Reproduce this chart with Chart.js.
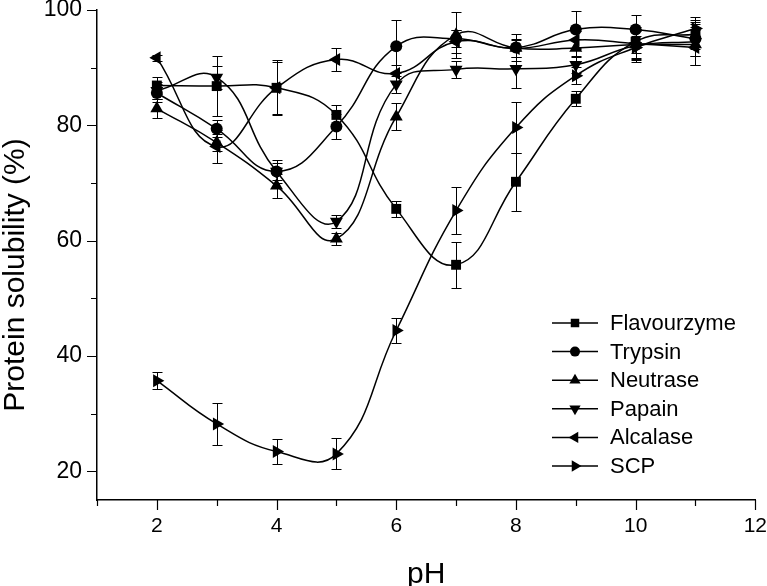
<!DOCTYPE html>
<html>
<head>
<meta charset="utf-8">
<script src="https://cdn.jsdelivr.net/npm/chart.js@4.4.1/dist/chart.umd.min.js"></script>
<style>
  html, body { margin: 0; padding: 0; background: #fff; }
  canvas { display: block; }
</style>
</head>
<body>
<canvas id="grafico" width="767" height="586"></canvas>
<script>
// ========== DATA ==========
const valoresPH = [2, 3, 4, 5, 6, 7, 8, 9, 10, 11];

const flavourzyme = [86.9, 86.8, 86.5, 81.8, 65.5, 55.8, 70.2, 84.6, 94.5, 95.8];
const trypsin     = [85.6, 79.4, 72.0, 79.8, 93.7, 95.0, 93.5, 96.6, 96.6, 95.0];
const neutrase    = [82.9, 77.0, 69.5, 60.3, 81.5, 95.7, 93.4, 93.4, 94.0, 94.0];
const papain      = [86.0, 88.3, 72.0, 63.3, 87.1, 89.7, 89.8, 90.5, 93.8, 94.5];
const alcalase    = [91.7, 76.3, 86.5, 91.4, 89.0, 94.5, 93.3, 94.8, 94.2, 93.5];
const scp         = [35.7, 28.2, 23.4, 23.0, 44.4, 65.2, 79.6, 88.6, 93.5, 96.8];

// standard deviations (error bars)
const flavourzymeErr = [1.5, 5.2, 4.8, 1.7, 1.4, 4.0, 5.0, 1.3, 2.0, 2.5];
const trypsinErr     = [1.5, 1.5, 1.5, 2.2, 4.6, 1.5, 2.3, 3.2, 2.6, 3.0];
const neutraseErr    = [1.7, 1.5, 2.1, 1.0, 2.4, 4.0, 1.5, 1.5, 3.0, 3.5];
const papainErr      = [1.5, 2.0, 2.0, 1.1, 1.5, 1.5, 3.3, 1.5, 2.5, 2.5];
const alcalaseErr    = [0.5, 2.9, 4.5, 2.0, 1.5, 2.0, 1.5, 1.5, 2.5, 3.0];
const scpErr         = [1.5, 3.7, 2.1, 2.7, 2.2, 4.1, 4.4, 1.5, 2.0, 2.0];

const nomesSeries = ['Flavourzyme', 'Trypsin', 'Neutrase', 'Papain', 'Alcalase', 'SCP'];
const ticksX = [2, 4, 6, 8, 10, 12];
const ticksY = [20, 40, 60, 80, 100];
const tituloY = 'Protein solubility (%)';

const FONTE = '"Liberation Sans", Arial, Helvetica, sans-serif';

// marker look for each series
const marcadores = [
    { estilo: 'rect', rotacao: 0, raio: 7 },
    { estilo: 'circle', rotacao: 0, raio: 6 },
    { estilo: 'triangle', rotacao: 0, raio: 7.5 },
    { estilo: 'triangle', rotacao: 180, raio: 7.5 },
    { estilo: 'triangle', rotacao: 270, raio: 7.5 },
    { estilo: 'triangle', rotacao: 90, raio: 7.5 }
];

const todosValores = [flavourzyme, trypsin, neutrase, papain, alcalase, scp];
const todosErros = [flavourzymeErr, trypsinErr, neutraseErr, papainErr, alcalaseErr, scpErr];

// ========== HELPERS ==========
function desenharMarcador(ctx, estilo, rotacao, x, y, r) {
    ctx.beginPath();
    if (estilo === 'rect') {
        const s = r * Math.SQRT1_2;
        ctx.rect(x - s, y - s, 2 * s, 2 * s);
    } else if (estilo === 'circle') {
        ctx.arc(x, y, r, 0, Math.PI * 2);
    } else {
        let a = rotacao * Math.PI / 180;
        for (let i = 0; i < 3; i++) {
            const px = x + Math.sin(a) * r;
            const py = y - Math.cos(a) * r;
            if (i === 0) ctx.moveTo(px, py); else ctx.lineTo(px, py);
            a += Math.PI * 2 / 3;
        }
    }
    ctx.closePath();
    ctx.fill();
}

// error bars, drawn under the curves
const pluginErros = {
    id: 'barrasErro',
    beforeDatasetsDraw(chart) {
        const ctx = chart.ctx;
        const sx = chart.scales.x, sy = chart.scales.y;
        ctx.save();
        ctx.strokeStyle = '#000';
        ctx.lineWidth = 1;
        todosValores.forEach((serie, i) => {
            serie.forEach((v, j) => {
                const e = todosErros[i][j];
                const x = Math.round(sx.getPixelForValue(valoresPH[j])) + 0.5;
                const yt = Math.round(sy.getPixelForValue(v + e)) + 0.5;
                const yb = Math.round(sy.getPixelForValue(v - e)) + 0.5;
                ctx.beginPath();
                ctx.moveTo(x, yt); ctx.lineTo(x, yb);
                ctx.moveTo(x - 5, yt); ctx.lineTo(x + 5, yt);
                ctx.moveTo(x - 5, yb); ctx.lineTo(x + 5, yb);
                ctx.stroke();
            });
        });
        ctx.restore();
    }
};

// major + minor tick marks (outward) and the y axis title
const pluginTicks = {
    id: 'marcasEixos',
    afterDraw(chart) {
        const ctx = chart.ctx;
        const sx = chart.scales.x, sy = chart.scales.y;
        const area = chart.chartArea;
        ctx.save();
        ctx.strokeStyle = '#000';
        ctx.lineWidth = 1.2;
        ctx.beginPath();
        for (let v = sx.min; v <= sx.max; v++) {
            const x = Math.round(sx.getPixelForValue(v)) + 0.5;
            const len = ticksX.includes(v) ? 10 : 6;
            ctx.moveTo(x, area.bottom); ctx.lineTo(x, area.bottom + len);
        }
        for (let v = 20; v <= sy.max; v += 10) {
            const y = Math.round(sy.getPixelForValue(v)) + 0.5;
            const len = ticksY.includes(v) ? 10 : 6;
            ctx.moveTo(area.left, y); ctx.lineTo(area.left - len, y);
        }
        ctx.stroke();

        // y title (sits a bit below the middle of the axis in the original)
        ctx.fillStyle = '#000';
        ctx.font = '30px ' + FONTE;
        ctx.textAlign = 'center';
        ctx.textBaseline = 'middle';
        ctx.translate(16, 275);
        ctx.rotate(-Math.PI / 2);
        ctx.fillText(tituloY, 0, 0);
        ctx.restore();
    }
};

// legend with a line through each marker
const pluginLegenda = {
    id: 'legendaLinhas',
    afterDraw(chart) {
        const ctx = chart.ctx;
        const x0 = 552, y0 = 323, passo = 28.6;
        ctx.save();
        ctx.fillStyle = '#000';
        ctx.strokeStyle = '#000';
        ctx.lineWidth = 1.5;
        ctx.font = '22px ' + FONTE;
        ctx.textBaseline = 'middle';
        chart.data.datasets.forEach((ds, i) => {
            const y = y0 + i * passo;
            ctx.beginPath();
            ctx.moveTo(x0, y); ctx.lineTo(x0 + 46, y);
            ctx.stroke();
            const m = marcadores[i];
            desenharMarcador(ctx, m.estilo, m.rotacao, x0 + 23, y, m.raio - 1);
            ctx.fillText(ds.label, x0 + 58, y + 1);
        });
        ctx.restore();
    }
};

// ========== CHART ==========
const datasets = nomesSeries.map((nome, i) => ({
    label: nome,
    data: valoresPH.map((p, j) => ({ x: p, y: todosValores[i][j] })),
    borderColor: '#000',
    borderWidth: 1.5,
    backgroundColor: '#000',
    pointBackgroundColor: '#000',
    pointBorderWidth: 0,
    pointStyle: marcadores[i].estilo,
    pointRotation: marcadores[i].rotacao,
    pointRadius: marcadores[i].raio,
    tension: 0.45,
    fill: false,
    clip: false
}));

// invisible tick marks only reserve the gap between axis and labels
const gradeOculta = (len) => ({
    display: true,
    drawOnChartArea: false,
    drawTicks: true,
    tickLength: len,
    tickColor: 'rgba(0,0,0,0)'
});

new Chart(document.getElementById('grafico'), {
    type: 'line',
    data: { datasets },
    options: {
        responsive: false,
        animation: false,
        layout: { padding: { top: 10, right: 11, left: 0, bottom: 0 } },
        plugins: {
            legend: { display: false },
            tooltip: { enabled: false }
        },
        scales: {
            x: {
                type: 'linear',
                min: 1,
                max: 12,
                afterFit(scale) { scale.height = 86; },
                afterBuildTicks(scale) { scale.ticks = ticksX.map(v => ({ value: v })); },
                grid: gradeOculta(14),
                border: { display: true, color: '#000', width: 1.5 },
                ticks: { color: '#000', padding: 0, font: { family: FONTE, size: 21 } },
                title: {
                    display: true,
                    text: 'pH',
                    color: '#000',
                    padding: { top: 0, bottom: -4 },
                    font: { family: FONTE, size: 30, lineHeight: 1 }
                }
            },
            y: {
                min: 15,
                max: 100,
                afterFit(scale) { scale.width = 97; },
                afterBuildTicks(scale) { scale.ticks = ticksY.map(v => ({ value: v })); },
                grid: gradeOculta(15),
                border: { display: true, color: '#000', width: 1.5 },
                ticks: { color: '#000', padding: 0, font: { family: FONTE, size: 23, lineHeight: 0.8 } }
            }
        }
    },
    plugins: [pluginErros, pluginTicks, pluginLegenda]
});
</script>
</body>
</html>
